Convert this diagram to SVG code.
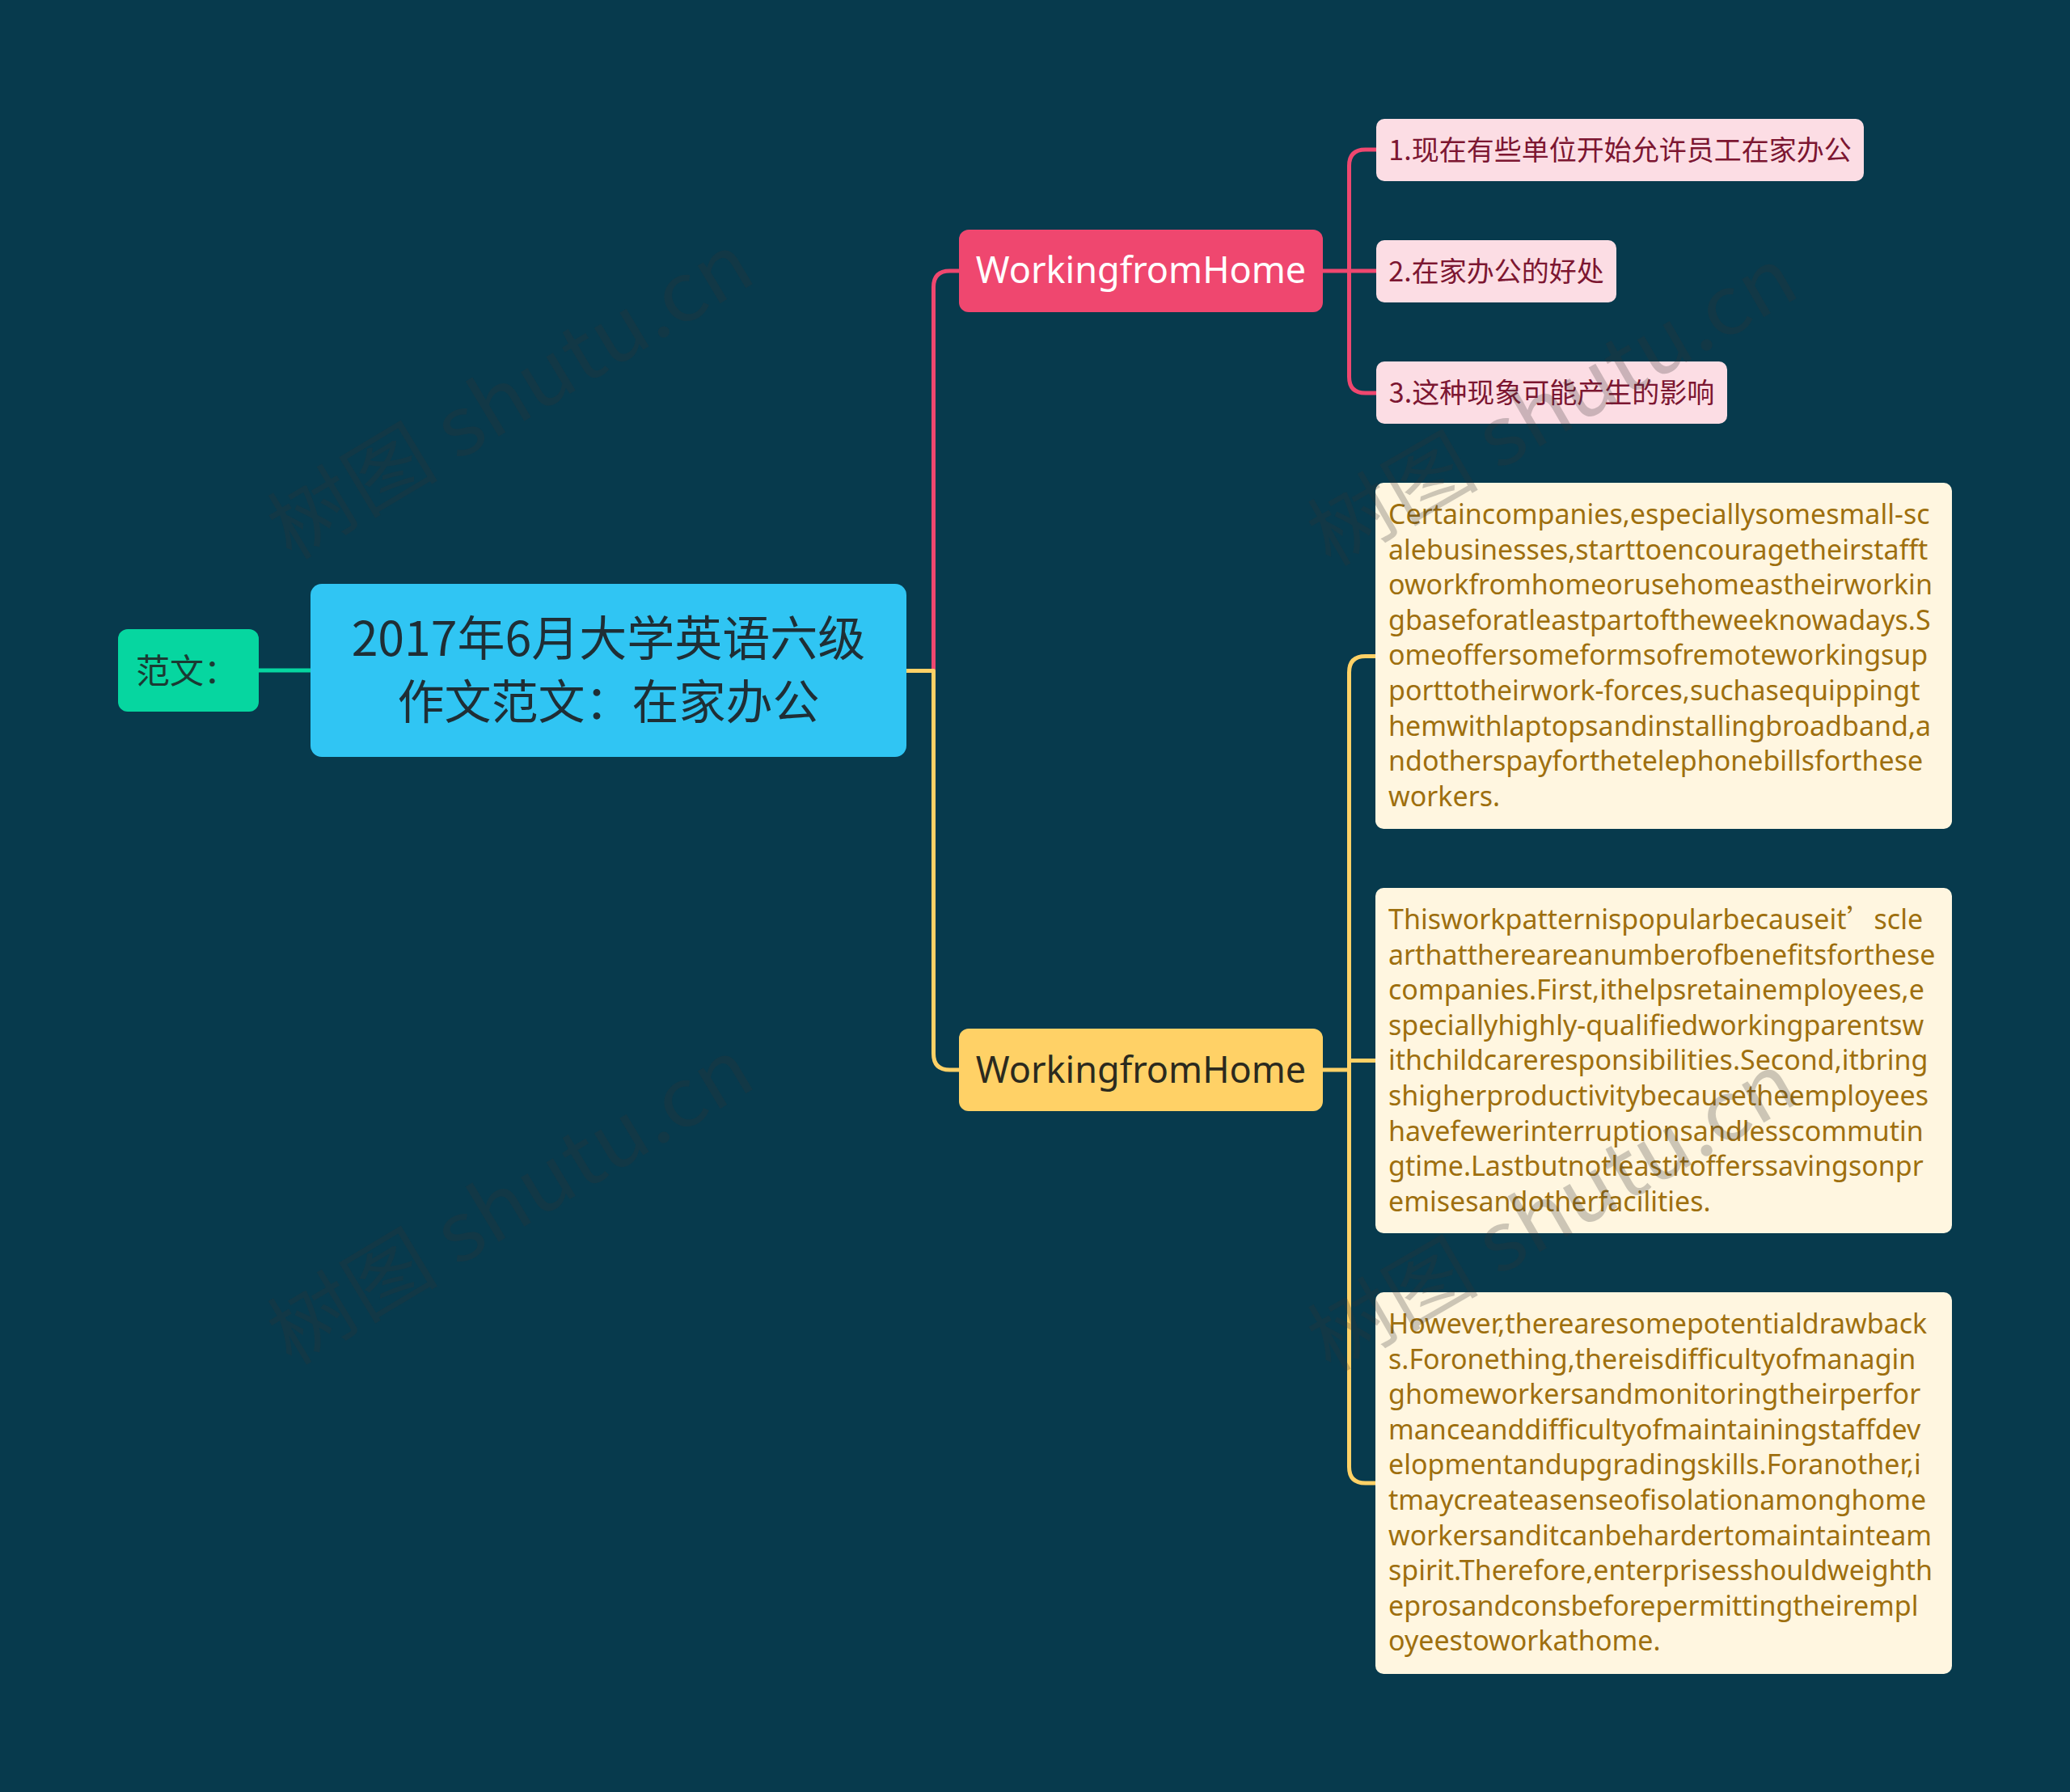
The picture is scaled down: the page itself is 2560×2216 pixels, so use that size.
<svg xmlns="http://www.w3.org/2000/svg" width="2560" height="2216" viewBox="0 0 2560 2216">
<style>
.cjk{font-family:"Noto Sans CJK SC","Noto Sans",sans-serif}
.lat{font-family:"Noto Sans","Noto Sans CJK SC",sans-serif}
.conn{fill:none;stroke-width:5;stroke-linecap:round;stroke-linejoin:round}
.pk{stroke:#EF476F}
.yl{stroke:#FFD166}
.gr{stroke:#06D6A0}
.body{font-size:34px;fill:#9E6F0E}
.child{fill:#FCDDE4}
.childt{font-size:34px;fill:#7C1631}
.note{fill:#FFF6E0}
.wm{font-size:100px;fill:#323232;fill-opacity:0.25}
</style>
<rect x="0" y="0" width="2560" height="2216" fill="#073A4D"/>
<g id="connectors">
<path class="conn gr" d="M320,829 H384"/>
<path class="conn pk" d="M1121,829.5 H1154.5 V355 Q1154.5,335 1174.5,335 H1186"/>
<path class="conn yl" d="M1121,829.5 H1154.5 V1303 Q1154.5,1323 1174.5,1323 H1186"/>
<path class="conn pk" d="M1636,335 H1702"/>
<path class="conn pk" d="M1702,185 H1688.5 Q1668.5,185 1668.5,205 V466 Q1668.5,486 1688.5,486 H1702"/>
<path class="conn yl" d="M1636,1323 H1668.5"/>
<path class="conn yl" d="M1668.5,1311.5 H1701"/>
<path class="conn yl" d="M1701,811.5 H1688.5 Q1668.5,811.5 1668.5,831.5 V1814 Q1668.5,1834 1688.5,1834 H1701"/>
</g>
<g id="node-fanwen">
<rect x="146" y="778" width="174" height="102" rx="12" fill="#06D6A0"/>
<text class="cjk" x="168" y="845" font-size="42" fill="#1B3A33">范文：</text>
</g>
<g id="node-root">
<rect x="384" y="722" width="737" height="214" rx="14" fill="#30C5F3"/>
<text class="cjk" x="752.5" y="811" font-size="59" fill="#1F2E35" text-anchor="middle">2017年6月大学英语六级</text>
<text class="cjk" x="752.5" y="889" font-size="58" fill="#1F2E35" text-anchor="middle">作文范文：在家办公</text>
</g>
<g id="node-wfh-pink">
<rect x="1186" y="284" width="450" height="102" rx="12" fill="#EF476F"/>
<text class="lat" x="1411" y="350" font-size="45" fill="#FFFFFF" text-anchor="middle">WorkingfromHome</text>
</g>
<g id="node-p1">
<rect class="child" x="1702" y="147" width="603" height="77" rx="10"/>
<text class="cjk childt" x="2003.5" y="198" text-anchor="middle">1.现在有些单位开始允许员工在家办公</text>
</g>
<g id="node-p2">
<rect class="child" x="1702" y="297" width="297" height="77" rx="10"/>
<text class="cjk childt" x="1850.5" y="348" text-anchor="middle">2.在家办公的好处</text>
</g>
<g id="node-p3">
<rect class="child" x="1702" y="447" width="434" height="77" rx="10"/>
<text class="cjk childt" x="1919" y="498" text-anchor="middle">3.这种现象可能产生的影响</text>
</g>
<g id="node-wfh-yellow">
<rect x="1186" y="1272" width="450" height="102" rx="12" fill="#FFD166"/>
<text class="lat" x="1411" y="1339" font-size="45" fill="#2B2A1E" text-anchor="middle">WorkingfromHome</text>
</g>
<g id="node-y1">
<rect class="note" x="1701" y="597" width="713" height="428" rx="10"/>
<text class="lat body" x="1717" y="648">
<tspan x="1717" y="648">Certaincompanies,especiallysomesmall-sc</tspan>
<tspan x="1717" y="691.6">alebusinesses,starttoencouragetheirstafft</tspan>
<tspan x="1717" y="735.2">oworkfromhomeorusehomeastheirworkin</tspan>
<tspan x="1717" y="778.8">gbaseforatleastpartoftheweeknowadays.S</tspan>
<tspan x="1717" y="822.4">omeoffersomeformsofremoteworkingsup</tspan>
<tspan x="1717" y="866">porttotheirwork-forces,suchasequippingt</tspan>
<tspan x="1717" y="909.6">hemwithlaptopsandinstallingbroadband,a</tspan>
<tspan x="1717" y="953.2">ndotherspayforthetelephonebillsforthese</tspan>
<tspan x="1717" y="996.8">workers.</tspan>
</text>
</g>
<g id="node-y2">
<rect class="note" x="1701" y="1098" width="713" height="427" rx="10"/>
<text class="lat body" x="1717" y="1149">
<tspan x="1717" y="1149">Thisworkpatternispopularbecauseit<tspan class="cjk">’</tspan>scle</tspan>
<tspan x="1717" y="1192.6">arthatthereareanumberofbenefitsforthese</tspan>
<tspan x="1717" y="1236.2">companies.First,ithelpsretainemployees,e</tspan>
<tspan x="1717" y="1279.8">speciallyhighly-qualifiedworkingparentsw</tspan>
<tspan x="1717" y="1323.4">ithchildcareresponsibilities.Second,itbring</tspan>
<tspan x="1717" y="1367">shigherproductivitybecausetheemployees</tspan>
<tspan x="1717" y="1410.6">havefewerinterruptionsandlesscommutin</tspan>
<tspan x="1717" y="1454.2">gtime.Lastbutnotleastitofferssavingsonpr</tspan>
<tspan x="1717" y="1497.8">emisesandotherfacilities.</tspan>
</text>
</g>
<g id="node-y3">
<rect class="note" x="1701" y="1598" width="713" height="472" rx="10"/>
<text class="lat body" x="1717" y="1649">
<tspan x="1717" y="1649">However,therearesomepotentialdrawback</tspan>
<tspan x="1717" y="1692.6">s.Foronething,thereisdifficultyofmanagin</tspan>
<tspan x="1717" y="1736.2">ghomeworkersandmonitoringtheirperfor</tspan>
<tspan x="1717" y="1779.8">manceanddifficultyofmaintainingstaffdev</tspan>
<tspan x="1717" y="1823.4">elopmentandupgradingskills.Foranother,i</tspan>
<tspan x="1717" y="1867">tmaycreateasenseofisolationamonghome</tspan>
<tspan x="1717" y="1910.6">workersanditcanbehardertomaintainteam</tspan>
<tspan x="1717" y="1954.2">spirit.Therefore,enterprisesshouldweighth</tspan>
<tspan x="1717" y="1997.8">eprosandconsbeforepermittingtheirempl</tspan>
<tspan x="1717" y="2041.4">oyeestoworkathome.</tspan>
</text>
</g>
<g id="watermarks">
<text class="cjk wm" transform="translate(360,694) rotate(-31)" textLength="675" lengthAdjust="spacingAndGlyphs">树图 shutu.cn</text>
<text class="cjk wm" transform="translate(360,1690) rotate(-31)" textLength="675" lengthAdjust="spacingAndGlyphs">树图 shutu.cn</text>
<text class="cjk wm" transform="translate(1645,702) rotate(-30)" textLength="675" lengthAdjust="spacingAndGlyphs">树图 shutu.cn</text>
<text class="cjk wm" transform="translate(1645,1698) rotate(-30)" textLength="675" lengthAdjust="spacingAndGlyphs">树图 shutu.cn</text>
</g>
</svg>
